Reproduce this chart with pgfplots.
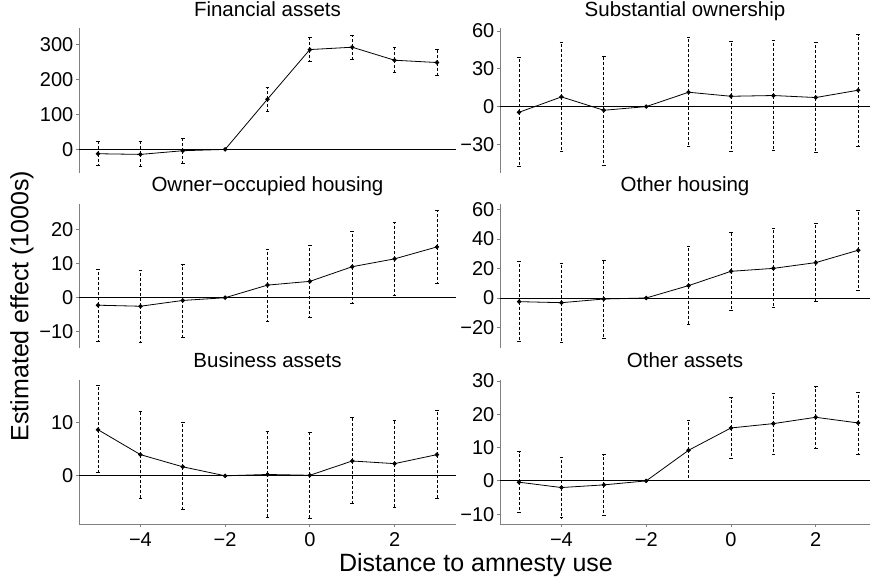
\documentclass[border=0pt]{standalone}
\usepackage{fontspec}
\setmainfont{Liberation Sans}
\usepackage{pgfplots}
\usepackage{pgfplotstable}
\pgfplotsset{compat=1.18}

% x = distance, y = estimate, lo/hi = interval bounds (1000s)
\pgfplotstableread{
x y lo hi
-5 -12.4 -46.7 23.8
-4 -14.3 -47.6 21.9
-3 -3.8 -39.0 30.5
-2 0 0 0
-1 143.8 108.6 178.0
0 285.7 250.5 320.0
1 292.4 257.0 327.6
2 255.2 221.0 291.0
3 248.6 212.4 284.8
}\fin
\pgfplotstableread{
x y lo hi
-5 -4.5 -47.5 39.0
-4 7.7 -35.6 51.0
-3 -2.9 -46.7 40.1
-2 0 0 0
-1 11.4 -31.6 54.7
0 8.2 -35.3 51.5
1 8.8 -34.8 52.3
2 7.2 -36.4 50.7
3 13.0 -31.3 57.1
}\sub
\pgfplotstableread{
x y lo hi
-5 -2.2 -12.7 8.4
-4 -2.5 -13.0 8.1
-3 -0.8 -11.5 9.7
-2 0 0 0
-1 3.7 -6.9 14.2
0 4.8 -5.8 15.4
1 9.1 -1.6 19.5
2 11.4 0.8 22.0
3 14.9 4.1 25.7
}\own
\pgfplotstableread{
x y lo hi
-5 -2.5 -29.2 24.5
-4 -3.2 -29.9 23.5
-3 -0.7 -27.4 25.8
-2 0 0 0
-1 8.4 -18.1 35.1
0 18.1 -8.4 44.8
1 20.1 -6.6 46.9
2 24.0 -2.5 50.9
3 32.4 5.2 59.5
}\oth
\pgfplotstableread{
x y lo hi
-5 8.7 0.6 17.0
-4 4.0 -4.2 12.2
-3 1.7 -6.4 10.0
-2 0 0 0
-1 0.25 -7.8 8.4
0 0.1 -8.0 8.2
1 2.8 -5.3 11.0
2 2.3 -5.9 10.4
3 4.0 -4.2 12.3
}\bus
\pgfplotstableread{
x y lo hi
-5 -0.4 -9.6 8.8
-4 -2.0 -11.1 7.0
-3 -1.2 -10.4 7.9
-2 0 0 0
-1 9.2 0.0 18.3
0 15.9 6.7 25.0
1 17.2 8.0 26.2
2 19.1 9.9 28.3
3 17.4 8.0 26.6
}\oas

\pgfplotsset{
  panel/.style={
    scale only axis, height=144.5pt,
    anchor=south west,
    axis x line*=bottom, axis y line*=left,
    axis line style={draw=gray, line width=0.8pt},
    tick align=outside, major tick length=3pt,
    tick style={gray, line width=0.8pt},
    xmin=-5.45,
    xtick={-4,-2,0,2}, xticklabels={−4,−2,0,2},
    ticklabel style={font=\fontsize{20}{20}\selectfont},
    yticklabel style={inner sep=0pt, xshift=-2.5pt},
    xticklabel style={inner sep=0pt, yshift=-5pt},
    title style={font=\fontsize{20.5}{20.5}\selectfont, at={(0.5,1)}, anchor=base, yshift=6pt},
  },
  leftcol/.style={panel, width=377pt, xmax=3.45},
  rightcol/.style={panel, width=370pt, xmax=3.28},
  toprow/.style={axis x line=none},
  zero/.style={black, line width=0.8pt, forget plot},
  est/.style={black, line width=0.8pt, mark=*, mark size=1.8pt,
    error bars/.cd, y dir=both, y explicit,
    error bar style={line width=0.8pt, dash pattern=on 3pt off 2pt},
    error mark=-,
    error mark options={solid, rotate=90, line width=0.8pt, mark size=1.8pt}},
}
\newcommand{\est}[1]{%
  \addplot[zero] coordinates {(-6,0) (4,0)};
  \addplot[est] table[x=x, y=y,
    y error plus expr=\thisrow{hi}-\thisrow{y},
    y error minus expr=\thisrow{y}-\thisrow{lo}] {#1};
}

\begin{document}
\begin{tikzpicture}[x=1pt, y=1pt]
\useasboundingbox (0,0) rectangle (870,578);

\begin{axis}[leftcol, toprow, at={(79pt,405pt)}, title={Financial assets},
  ymin=-67.5, ymax=346, ytick={0,100,200,300}, yticklabels={0,100,200,300}]
  \est{\fin}
\end{axis}
\begin{axis}[rightcol, toprow, at={(500pt,405pt)}, title={Substantial ownership},
  ymin=-52.7, ymax=62, ytick={-30,0,30,60}, yticklabels={−30,0,30,60}]
  \est{\sub}
\end{axis}

\begin{axis}[leftcol, toprow, at={(79pt,229.5pt)}, title={Owner−occupied housing},
  ymin=-14.9, ymax=27.5, ytick={-10,0,10,20}, yticklabels={−10,0,10,20}]
  \est{\own}
\end{axis}
\begin{axis}[rightcol, toprow, at={(500pt,229.5pt)}, title={Other housing},
  ymin=-34.3, ymax=63.8, ytick={-20,0,20,40,60}, yticklabels={−20,0,20,40,60}]
  \est{\oth}
\end{axis}

\begin{axis}[leftcol, at={(79pt,53.5pt)}, title={Business assets},
  ymin=-9.2, ymax=18.1, ytick={0,10}, yticklabels={0,10}]
  \est{\bus}
\end{axis}
\begin{axis}[rightcol, at={(500pt,53.5pt)}, title={Other assets},
  ymin=-13.1, ymax=30.3, ytick={-10,0,10,20,30}, yticklabels={−10,0,10,20,30}]
  \est{\oas}
\end{axis}

\node[rotate=90, font=\fontsize{25}{25}\selectfont] at (22,272) {Estimated effect (1000s)};
\node[anchor=base, font=\fontsize{25}{25}\selectfont] at (476,6.5) {Distance to amnesty use};
\end{tikzpicture}
\end{document}
